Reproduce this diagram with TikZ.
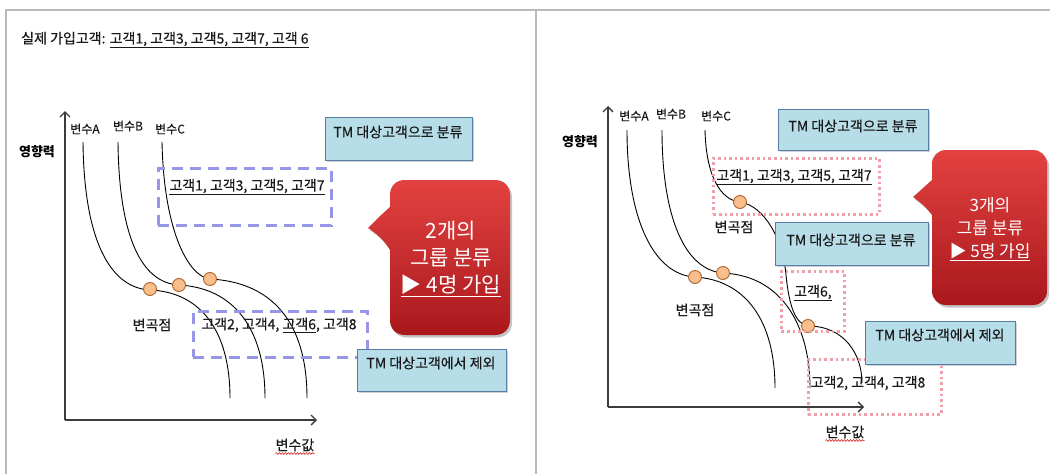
\documentclass[tikz,border=0pt]{standalone}
\usepackage{fontspec}
\setmainfont{Noto Sans CJK KR}
\newfontfamily\bodyfont{Noto Sans CJK KR}[FakeBold=0.35]
\usetikzlibrary{arrows.meta,shadows,decorations.pathmorphing}
\definecolor{frameGray}{RGB}{185,185,185}
\definecolor{boxBlue}{RGB}{183,221,232}
\definecolor{boxEdge}{RGB}{85,125,165}
\definecolor{lav}{RGB}{150,150,232}
\definecolor{pinkdot}{RGB}{240,160,170}
\definecolor{knotFill}{RGB}{248,190,140}
\definecolor{knotEdge}{RGB}{175,100,45}
\definecolor{calTop}{RGB}{226,66,64}
\definecolor{calBot}{RGB}{170,24,28}
\definecolor{axisGray}{RGB}{60,60,60}
\begin{document}
\begin{tikzpicture}[x=1pt,y=-1pt,
  body/.style={font=\bodyfont\fontsize{14}{16}\selectfont, text=black!90, inner sep=0pt},
  varlab/.style={font=\bodyfont\fontsize{12}{13}\selectfont, text=black!90, inner sep=0pt},
  axlab/.style={font=\fontsize{13}{15}\selectfont\bfseries, text=black, inner sep=0pt},
  bluebox/.style={draw=boxEdge, fill=boxBlue, line width=1.2pt, inner sep=0pt,
    drop shadow={shadow xshift=1.5pt, shadow yshift=-1.5pt, opacity=0.35}},
  lavbox/.style={draw=lav, line width=2.8pt, dash pattern=on 11pt off 7pt},
  pinkbox/.style={draw=pinkdot, line width=2.6pt, dash pattern=on 2.6pt off 3pt},
  curve/.style={draw=black, line width=0.9pt},
  knot/.style={circle, draw=knotEdge, fill=knotFill, line width=0.9pt, minimum size=13pt, inner sep=0pt},
  axis/.style={draw=axisGray, line width=1.4pt, -{Straight Barb[length=5pt,width=10pt]}},
  callout/.style={top color=calTop, bottom color=calBot,
    drop shadow={shadow xshift=2pt, shadow yshift=-2.5pt, opacity=0.45}},
  caltext/.style={text=white, align=center, inner sep=0pt},
  frameline/.style={draw=frameGray, line width=2pt},
  squiggle/.style={draw=red!80!black, line width=0.5pt, decorate,
    decoration={snake, amplitude=0.9pt, segment length=3pt}}
]
\useasboundingbox (0,0) rectangle (1050,474);
\fill[white] (0,0) rectangle (1050,474);
% frame
\draw[frameline] (5,10) -- (1050,10);
\draw[frameline] (6,10) -- (6,474);
\draw[frameline] (536,10) -- (536,474);

% ================= LEFT PANEL =================
\node[body, anchor=west] (title) at (21,40) {실제 가입고객: \underline{고객1, 고객3, 고객5, 고객7, 고객 6}};

\coordinate (LO) at (65,420);
\coordinate (LYt) at (65,111);
\coordinate (LXr) at (317,420);
\draw[axis] (LO) -- (LYt);
\draw[axis] (LO) -- (LXr);
\node[axlab] (Lyl) at (37,152) {영향력};
\node[body] (Lxl) at (295,445) {변수값};
\draw[squiggle] ([yshift=-2pt]Lxl.south west) -- ([yshift=-2pt]Lxl.south east);

\node[varlab] (LvA) at (85,129) {변수A};
\node[varlab] (LvB) at (128,126) {변수B};
\node[varlab] (LvC) at (170,129) {변수C};

% curves
\draw[curve] (83,142) .. controls (84,240) and (110,288) .. (150,290)
  .. controls (200,292) and (230,330) .. (230,398);
\draw[curve] (118,142) .. controls (119,238) and (142,283) .. (179,285)
  .. controls (235,288) and (265,330) .. (265,398);
\draw[curve] (162,142) .. controls (164,235) and (190,277) .. (210,279)
  .. controls (270,282) and (307,320) .. (307,398);

\node[knot] (LkA) at (150,289) {};
\node[knot] (LkB) at (179,285) {};
\node[knot] (LkC) at (210,279) {};
\node[body] (Lbend) at (152,325) {변곡점};

% dashed groups
\node[lavbox, minimum width=173pt, minimum height=57pt, anchor=north west] (Lg1) at (157,167) {};
\node[body] (Lg1t) at (247,187) {\underline{고객1, 고객3, 고객5, 고객7}};
\node[lavbox, minimum width=174pt, minimum height=46pt, anchor=north west] (Lg2) at (192,310) {};
\node[body] (Lg2t) at (279,325) {고객2, 고객4, \underline{고객6}, 고객8};

% blue boxes
\node[bluebox, minimum width=147pt, minimum height=43pt, anchor=north west] (Lb1) at (325,117) {};
\node[body] (Lb1t) at (398,132) {TM 대상고객으로 분류};
\node[bluebox, minimum width=149pt, minimum height=42pt, anchor=north west] (Lb2) at (357,349) {};
\node[body] (Lb2t) at (431,363) {TM 대상고객에서 제외};

% callout
\path[callout] (390,250) -- (390,320) .. controls (390,329) and (396,335) .. (405,335)
  -- (495,335) .. controls (504,335) and (510,329) .. (510,320)
  -- (510,195) .. controls (510,186) and (504,180) .. (495,180)
  -- (405,180) .. controls (396,180) and (390,186) .. (390,195)
  -- (390,207) .. controls (382,214) and (375,221) .. (368,228)
  .. controls (376,233) and (384,240) .. (390,250) -- cycle;
\node[caltext, font=\fontsize{21}{27}\selectfont] (Lct) at (451,259) {2개의\\그룹 분류\\\underline{▶ 4명 가입}};

% ================= RIGHT PANEL =================
\coordinate (RO) at (608,407);
\coordinate (RYt) at (608,106);
\coordinate (RXr) at (864,407);
\draw[axis] (RO) -- (RYt);
\draw[axis] (RO) -- (RXr);
\node[axlab] (Ryl) at (580,142) {영향력};
\node[body] (Rxl) at (845,432) {변수값};
\draw[squiggle] ([yshift=-2pt]Rxl.south west) -- ([yshift=-2pt]Rxl.south east);

\node[varlab] (RvA) at (634,116) {변수A};
\node[varlab] (RvB) at (671,114) {변수B};
\node[varlab] (RvC) at (716,116) {변수C};

% curves
\draw[curve] (627,130) .. controls (627,222) and (655,275) .. (695,277)
  .. controls (745,280) and (775,320) .. (775,388);
\draw[curve] (662,130) .. controls (662,218) and (685,270) .. (723,273)
  .. controls (785,276) and (810,330) .. (810,388);
\draw[curve] (705,130) .. controls (706,175) and (720,200) .. (740,202)
  .. controls (765,206) and (783,240) .. (786,275)
  .. controls (789,305) and (795,324) .. (808,326)
  .. controls (845,326) and (862,355) .. (862,383);

\node[knot] (RkA) at (695,277) {};
\node[knot] (RkB) at (723,273) {};
\node[knot] (RkC1) at (740,202) {};
\node[knot] (RkC2) at (808,326) {};
\node[body] (Rbend1) at (734,227) {변곡점};
\node[body] (Rbend2) at (695,310) {변곡점};

% dotted groups
\node[pinkbox, minimum width=166pt, minimum height=56pt, anchor=north west] (Rg1) at (712,157) {};
\node[body] (Rg1t) at (794,177) {\underline{고객1, 고객3, 고객5, 고객7}};
\node[pinkbox, minimum width=63pt, minimum height=60pt, anchor=north west] (Rg2) at (780,270) {};
\node[body] (Rg2t) at (813,293) {\underline{고객6,}};
\node[pinkbox, minimum width=133pt, minimum height=55pt, anchor=north west] (Rg3) at (807,358) {};
\node[body] (Rg3t) at (868,383) {고객2, 고객4, 고객8};

% blue boxes
\node[bluebox, minimum width=150pt, minimum height=41pt, anchor=north west] (Rb1) at (778,109) {};
\node[body] (Rb1t) at (853,126) {TM 대상고객으로 분류};
\node[bluebox, minimum width=153pt, minimum height=43pt, anchor=north west] (Rb2) at (775,222) {};
\node[body] (Rb2t) at (851,240) {TM 대상고객으로 분류};
\node[bluebox, minimum width=150pt, minimum height=43pt, anchor=north west] (Rb3) at (865,321) {};
\node[body] (Rb3t) at (940,335) {TM 대상고객에서 제외};

% callout
\path[callout] (932,215) -- (932,291) .. controls (932,299) and (938,305) .. (946,305)
  -- (1033,305) .. controls (1041,305) and (1047,299) .. (1047,291)
  -- (1047,164) .. controls (1047,156) and (1041,150) .. (1033,150)
  -- (946,150) .. controls (938,150) and (932,156) .. (932,164)
  -- (932,180) .. controls (925,186) and (919,192) .. (913,197)
  .. controls (920,202) and (927,208) .. (932,215) -- cycle;
\node[caltext, font=\fontsize{17}{23}\selectfont] (Rct) at (990,229) {3개의\\그룹 분류\\\underline{▶ 5명 가입}};
\end{tikzpicture}
\end{document}
